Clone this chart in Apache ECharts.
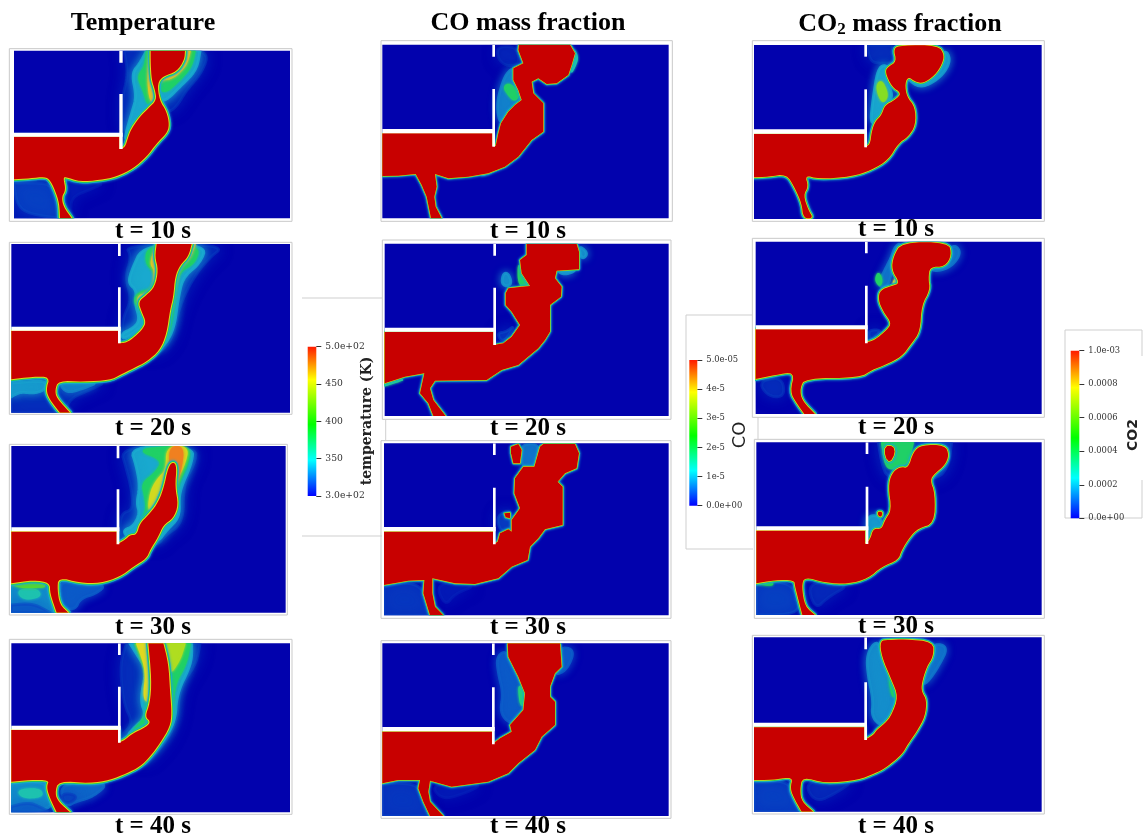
<!DOCTYPE html>
<html><head><meta charset="utf-8">
<style>html,body{margin:0;padding:0;background:#fff}#c{width:1145px;height:839px;filter:blur(0.45px)}</style>
<script src="https://cdn.jsdelivr.net/npm/echarts@6/dist/echarts.min.js"></script></head>
<body><div id="c"></div>
<script>
// ---------- text ----------
const columnTitles=['Temperature','CO mass fraction','{a|CO}{s|2}{a| mass fraction}'];
const timeLabels=['t = 10 s','t = 20 s','t = 30 s','t = 40 s'];
// ---------- colour-bar ticks ----------
const tempTicks={300:'3.0e+02',350:'350',400:'400',450:'450',500:'5.0e+02'};
const coTicks={0:'0.0e+00',1:'1e-5',2:'2e-5',3:'3e-5',4:'4e-5',5:'5.0e-05'};
const co2Ticks={0:'0.0e+00',2:'0.0002',4:'0.0004',6:'0.0006',8:'0.0008',10:'1.0e-03'};
// ---------- field contours: [level,[[x,y],...]]  level 0..1 of the colour scale ----------
const T10_core=[[42,410],[358,410],[358,447],[375,443],[385,410],[395,385],[420,350],[445,325],[470,300],[465,270],[455,240],[452,190],[452,152],[555,152],[553,180],[530,215],[490,228],[472,250],[478,300],[500,335],[508,375],[500,400],[470,430],[440,470],[400,505],[350,530],[300,540],[240,545],[195,530],[190,535],[197,570],[185,590],[190,620],[215,655],[180,655],[178,610],[165,570],[150,540],[135,530],[90,535],[42,538]];
const T10_zones=[
[.06,[[42,540],[320,545],[280,565],[210,592],[215,655],[42,655]]],
[.13,[[42,550],[150,548],[165,590],[175,655],[80,640],[50,610]]],
[.1,[[372,152],[600,152],[625,170],[600,225],[560,270],[530,320],[500,340],[470,300],[440,330],[400,370],[372,410],[365,300],[385,220]]],
[.28,[[395,220],[420,190],[440,152],[600,152],[590,210],[540,260],[500,300],[480,300],[450,325],[420,345],[395,375],[380,420],[375,410],[395,340],[410,290]]],
[.45,[[412,230],[435,200],[440,152],[585,152],[575,200],[535,245],[495,280],[472,260],[470,300],[445,320],[430,270]]],
[.75,[[445,200],[450,152],[570,152],[560,195],[520,235],[480,240],[465,265],[470,300],[455,310],[445,270]]]];
const T20_core=[[34,992],[355,992],[355,1030],[380,1028],[405,1010],[430,985],[438,965],[425,935],[415,905],[440,885],[465,860],[475,810],[465,770],[470,732],[575,732],[565,770],[540,795],[525,830],[520,890],[510,930],[500,1000],[480,1050],[440,1085],[400,1105],[360,1125],[330,1140],[250,1145],[175,1142],[165,1170],[170,1195],[210,1238],[180,1238],[150,1200],[138,1170],[150,1130],[100,1130],[34,1138]];
const T20_zones=[
[.1,[[34,1140],[330,1140],[270,1170],[210,1195],[195,1238],[34,1238]]],
[.26,[[34,1150],[140,1140],[135,1170],[100,1180],[60,1175],[34,1190]]],
[.22,[[175,1145],[300,1145],[250,1165],[200,1180]]],
[.1,[[375,735],[680,733],[620,780],[570,850],[535,930],[520,1010],[480,1060],[440,1060],[400,1040],[365,1000],[370,950],[395,900],[375,830],[395,770]]],
[.28,[[385,850],[395,810],[430,735],[620,735],[600,790],[550,830],[535,890],[520,1000],[470,1060],[430,1000],[440,965],[420,985],[370,1020],[365,1000],[400,985],[420,960],[405,910],[410,870]]],
[.45,[[435,790],[445,735],[600,735],[585,790],[535,815],[525,890],[510,1000],[470,1060],[440,1000],[438,960],[420,930],[400,900],[420,875],[455,870],[470,820]]],
[.75,[[450,790],[470,732],[585,732],[570,775],[535,805],[522,880],[510,950],[470,950],[420,930],[410,890],[440,880],[460,865],[465,810]]]];
const T30_core=[[34,305],[350,305],[350,343],[375,330],[390,315],[410,315],[420,280],[445,255],[470,225],[490,180],[505,110],[520,95],[530,110],[525,170],[535,225],[520,265],[490,285],[475,320],[450,360],[440,385],[400,410],[360,440],[300,460],[240,458],[175,442],[172,480],[180,525],[205,548],[170,548],[150,490],[150,458],[100,450],[34,460]];
const T30_zones=[
[.24,[[34,460],[150,460],[165,548],[34,548]]],
[.12,[[34,525],[100,520],[150,548],[34,548]]],
[.34,[[50,480],[110,475],[125,500],[70,510]]],
[.16,[[175,445],[320,462],[290,490],[240,505],[225,540],[185,530]]],
[.55,[[34,462],[100,452],[145,470],[100,472],[60,472]]],
[.1,[[360,50],[590,50],[585,100],[550,160],[550,280],[490,320],[480,340],[440,345],[420,310],[360,340],[360,250],[400,240],[395,180],[380,120]]],
[.28,[[390,50],[580,50],[575,100],[535,190],[540,260],[500,300],[470,340],[410,315],[380,320],[370,300],[400,290],[420,250],[410,220],[420,170],[410,110]]],
[.45,[[410,60],[500,50],[570,50],[565,100],[530,170],[535,240],[490,290],[465,340],[420,280],[440,240],[435,200],[425,160],[465,130],[490,90]]],
[.7,[[500,50],[565,50],[555,100],[525,160],[520,240],[490,270],[445,250],[450,190],[470,150],[500,120]]],
[.85,[[510,50],[550,50],[545,110],[525,170],[490,180],[510,110]]]];
const T40_core=[[34,900],[355,900],[355,938],[375,930],[395,912],[440,890],[452,875],[435,860],[450,820],[455,750],[445,640],[490,640],[505,700],[510,780],[515,850],[510,890],[480,940],[450,980],[420,1010],[380,1030],[330,1050],[270,1060],[175,1052],[165,1090],[175,1115],[210,1147],[170,1147],[148,1100],[140,1070],[148,1050],[90,1050],[34,1055]];
const T40_zones=[
[.24,[[34,1055],[148,1055],[165,1140],[34,1147]]],
[.13,[[34,1130],[90,1115],[150,1147],[34,1147]]],
[.34,[[50,1080],[120,1075],[130,1100],[70,1105]]],
[.18,[[175,1060],[330,1055],[280,1100],[225,1115],[200,1130]]],
[.09,[[185,1090],[230,1095],[220,1115],[190,1120]]],
[.1,[[360,700],[380,640],[600,640],[590,700],[540,770],[530,880],[480,960],[420,1010],[385,920],[360,920],[400,880],[370,820]]],
[.28,[[390,640],[575,640],[575,700],[530,790],[525,880],[470,960],[410,1010],[380,920],[400,895],[440,860],[420,810],[440,720],[415,680]]],
[.45,[[405,640],[570,640],[560,700],[520,770],[520,880],[470,940],[410,920],[395,905],[430,870],[440,830],[445,760],[430,700]]],
[.72,[[410,640],[440,640],[455,740],[445,820],[430,800],[440,720]]],
[.65,[[490,640],[555,640],[540,690],[505,740]]]];
const C10_core=[[22,400],[352,400],[352,438],[362,438],[370,400],[378,370],[400,335],[420,315],[440,300],[430,270],[415,240],[415,205],[445,190],[430,150],[432,134],[585,134],[600,160],[590,195],[580,225],[545,250],[515,252],[490,235],[470,245],[475,280],[505,310],[505,395],[470,420],[430,470],[390,500],[340,520],[280,530],[220,535],[180,522],[185,560],[178,590],[182,620],[200,655],[168,655],[155,590],[140,555],[122,522],[70,527],[22,528]];
const C10_zones=[
[.08,[[365,140],[425,140],[435,190],[400,200],[370,180]]],
[.22,[[365,310],[385,240],[400,215],[415,205],[440,300],[420,315],[395,340],[375,375]]],
[.45,[[385,260],[405,250],[435,280],[420,305],[400,285]]],
[.35,[[590,140],[610,170],[600,200],[585,225]]],
[.3,[[310,522],[360,505],[330,527]]]];
const C20_core=[[29,996],[355,996],[355,1035],[385,1030],[410,1010],[435,975],[410,935],[392,915],[392,880],[400,865],[440,860],[465,858],[440,820],[435,780],[455,765],[455,732],[605,732],[612,755],[612,808],[545,812],[540,835],[560,860],[558,890],[525,915],[525,995],[510,1020],[490,1045],[430,1095],[380,1110],[335,1140],[180,1142],[165,1165],[175,1200],[212,1248],[175,1248],[160,1210],[135,1180],[148,1120],[90,1130],[29,1150]];
const C20_zones=[
[.25,[[380,850],[385,820],[400,820],[410,850],[395,860]]],
[.45,[[430,780],[445,840],[465,858],[430,860]]],
[.25,[[610,735],[640,760],[620,780]]],
[.25,[[545,812],[610,808],[570,825]]],
[.13,[[365,1000],[395,995],[420,975],[385,1030]]],
[.4,[[29,1150],[100,1135],[29,1157]]]];
const C30_core=[[27,305],[355,305],[355,343],[368,335],[375,310],[400,298],[410,305],[410,270],[435,235],[418,190],[420,145],[445,110],[478,110],[495,50],[505,42],[600,42],[612,70],[605,115],[570,130],[548,155],[563,170],[563,285],[510,298],[490,325],[465,350],[458,390],[410,410],[370,445],[300,462],[240,460],[172,445],[172,490],[180,530],[205,556],[165,556],[145,490],[148,450],[100,452],[27,465]];
const C30_isle=[[[408,50],[430,42],[440,60],[435,100],[415,100],[408,70]],[[388,250],[405,248],[405,265],[392,262]]];
const C30_zones=[
[.2,[[440,42],[495,42],[480,110],[445,110],[440,90]]],
[.14,[[365,255],[410,240],[412,300],[375,305]]],
[.12,[[27,470],[100,455],[150,480],[160,556],[27,556]]],
[.06,[[180,455],[310,465],[240,490],[210,530]]]];
const C40_core=[[22,905],[352,905],[352,943],[375,925],[410,905],[405,885],[445,840],[450,790],[430,740],[400,680],[398,640],[555,640],[560,710],[540,730],[525,770],[525,800],[540,815],[540,885],[500,920],[480,960],[430,1000],[400,1030],[340,1055],[230,1070],[165,1052],[160,1085],[165,1115],[205,1158],[165,1158],[145,1115],[130,1075],[135,1050],[70,1050],[22,1060]];
const C40_zones=[
[.16,[[365,680],[395,660],[430,740],[450,790],[445,840],[410,885],[375,850],[385,790],[370,730]]],
[.42,[[430,760],[450,790],[445,830],[435,820]]],
[.16,[[555,650],[600,660],[575,720],[540,735],[560,710]]],
[.12,[[22,1060],[130,1060],[150,1120],[165,1158],[22,1158]]],
[.06,[[165,1060],[330,1060],[270,1090],[200,1110]]]];
const D10_core=[[27,402],[358,402],[358,440],[375,435],[380,395],[390,365],[410,345],[420,315],[450,300],[470,280],[440,260],[420,215],[430,200],[455,185],[445,145],[470,136],[580,136],[598,165],[590,195],[570,225],[535,250],[510,245],[490,230],[480,250],[485,290],[510,320],[512,375],[490,410],[460,430],[430,480],[380,510],[320,530],[220,537],[180,525],[190,560],[175,585],[190,630],[205,655],[175,655],[170,610],[150,565],[125,522],[70,530],[27,532]];
const D10_zones=[
[.1,[[365,135],[440,135],[450,190],[395,190],[375,180]]],
[.28,[[385,290],[400,200],[430,195],[420,240],[445,285],[425,315],[410,345],[375,380]]],
[.6,[[395,255],[410,240],[430,285],[415,310],[400,285]]],
[.26,[[598,145],[618,180],[590,230],[530,265],[490,240],[500,225],[570,225]]]];
const D20_core=[[32,988],[360,988],[360,1028],[390,1020],[425,990],[440,970],[415,935],[400,900],[405,870],[440,858],[465,850],[440,810],[445,770],[470,727],[610,727],[620,765],[600,800],[555,800],[550,835],[555,870],[530,915],[525,995],[500,1030],[470,1070],[420,1095],[380,1110],[345,1133],[180,1135],[165,1165],[170,1200],[210,1242],[178,1242],[155,1210],[135,1175],[150,1115],[90,1125],[32,1137]];
const D20_zones=[
[.2,[[440,770],[450,740],[470,727],[440,810],[430,860],[395,860],[430,790]]],
[.45,[[390,840],[400,815],[412,840],[405,860]]],
[.72,[[445,845],[460,825],[470,852],[445,855]]],
[.2,[[620,730],[650,755],[620,800],[570,815],[555,800],[600,800]]],
[.12,[[370,990],[410,990],[390,1010],[375,1020]]],
[.1,[[40,1145],[110,1130],[120,1190],[70,1190]]]];
const D30_core=[[34,302],[360,302],[360,342],[375,330],[385,295],[410,298],[420,270],[440,240],[430,170],[440,130],[465,110],[490,115],[505,65],[530,45],[600,45],[612,75],[600,105],[570,130],[555,150],[570,190],[568,280],[520,295],[495,320],[470,360],[460,390],[410,410],[370,445],[310,462],[240,458],[178,440],[170,470],[180,530],[210,555],[172,555],[150,470],[148,450],[90,450],[34,460]];
const D30_isle=[[[420,48],[445,48],[450,70],[435,98],[420,80]],[[398,245],[412,245],[410,260],[400,258]]];
const D30_zones=[
[.12,[[400,37],[620,37],[610,110],[575,150],[430,150],[410,100]]],
[.45,[[410,37],[505,37],[490,100],[470,105],[440,120],[420,105]]],
[.26,[[365,260],[400,255],[420,300],[380,295],[372,330]]],
[.14,[[34,465],[90,452],[150,470],[170,553],[34,555]]],
[.48,[[34,460],[80,452],[85,468]]],
[.09,[[185,452],[320,462],[250,500],[210,540]]]];
const D40_core=[[27,892],[358,892],[358,930],[385,915],[395,900],[420,880],[440,855],[460,800],[440,750],[410,680],[405,632],[430,630],[480,628],[565,635],[565,680],[545,710],[530,760],[530,785],[545,810],[540,860],[515,905],[490,940],[470,975],[420,1015],[390,1030],[340,1050],[240,1060],[172,1040],[165,1080],[170,1115],[205,1145],[170,1145],[150,1110],[135,1075],[145,1040],[80,1050],[27,1050]];
const D40_zones=[
[.24,[[365,680],[385,640],[405,640],[455,800],[440,855],[410,890],[380,860],[385,810],[370,740]]],
[.46,[[430,720],[455,800],[440,800]]],
[.2,[[565,640],[610,650],[580,710],[545,760],[530,760],[565,680]]],
[.14,[[27,1055],[135,1050],[165,1145],[27,1145]]],
[.09,[[175,1050],[330,1050],[280,1085],[210,1120]]]];
// ---------- walls [x0,x1,y0,y1] in each panel's own units ----------
const T10_walls=[[42,368,398,410],[358,368,152,188],[358,368,282,447]];
const T20_walls=[[34,362,980,992],[354,362,732,768],[354,362,862,1030]];
const T30_walls=[[34,358,292,304],[350,358,48,85],[350,358,178,343]];
const T40_walls=[[34,362,887,899],[354,362,640,675],[354,362,770,938]];
const C10_walls=[[22,360,387,400],[352,360,134,170],[352,360,267,440]];
const C20_walls=[[29,363,983,995],[355,363,731,767],[355,363,863,1035]];
const C30_walls=[[27,362,291,304],[354,362,40,75],[354,362,173,343]];
const C40_walls=[[22,359,891,904],[351,359,640,675],[351,359,772,943]];
const D10_walls=[[27,366,388,401],[358,366,135,170],[358,366,268,442]];
const D20_walls=[[32,368,976,988],[360,368,725,760],[360,368,857,1030]];
const D30_walls=[[34,370,289,301],[362,370,37,72],[362,370,170,342]];
const D40_walls=[[27,366,878,890],[358,366,622,658],[358,366,757,930]];

// ---------- layout (not data) ----------
const SCALE=3;
const fieldLayout=[
 {o:[0,0],b:[42,870,152,655],f:[28,876,146,664],core:T10_core,z:T10_zones,w:T10_walls,g:[5,3.4,2],s:2},
 {o:[0,0],b:[34,870,732,1238],f:[28,876,727,1243],core:T20_core,z:T20_zones,w:T20_walls,g:[5,3.4,2],s:2},
 {o:[0,430],b:[34,857,48,548],f:[28,862,43,555],core:T30_core,z:T30_zones,w:T30_walls,g:[5,3.4,2],s:2},
 {o:[0,430],b:[34,870,640,1147],f:[28,876,628,1153],core:T40_core,z:T40_zones,w:T40_walls,g:[5,3.4,2],s:2},
 {o:[375,0],b:[22,881,134,655],f:[18,892,122,664],core:C10_core,z:C10_zones,w:C10_walls,g:[2.4,1.6,.9],s:0},
 {o:[375,0],b:[29,881,731,1248],f:[22,888,720,1258],core:C20_core,z:C20_zones,w:C20_walls,g:[2.4,1.6,.9],s:0},
 {o:[375,430],b:[27,881,40,556],f:[18,888,32,565],core:C30_core,isle:C30_isle,z:C30_zones,w:C30_walls,g:[2.4,1.6,.9],s:0},
 {o:[375,430],b:[22,881,640,1158],f:[18,888,632,1165],core:C40_core,z:C40_zones,w:C40_walls,g:[2.4,1.6,.9],s:0},
 {o:[745,0],b:[27,890,135,657],f:[22,898,122,664],core:D10_core,z:D10_zones,w:D10_walls,g:[4,2.6,1.4],s:2},
 {o:[745,0],b:[32,890,725,1242],f:[22,898,715,1252],core:D20_core,z:D20_zones,w:D20_walls,g:[4,2.6,1.4],s:2},
 {o:[745,430],b:[34,890,37,555],f:[28,898,28,565],core:D30_core,isle:D30_isle,z:D30_zones,w:D30_walls,g:[4,2.6,1.4],s:2},
 {o:[745,430],b:[27,890,622,1145],f:[22,898,616,1152],core:D40_core,z:D40_zones,w:D40_walls,g:[4,2.6,1.4],s:2}
];
const titleLayout=[[143,23],[528,23],[900,24]];
const timeX=[153,528,896];
const timeY=[[232,429,628,827],[232,429,628,827],[230,428,627,827]];
const colourBars=[
 {l:307.7,t:346.7,w:8.6,h:149.3,min:300,max:500,iv:50,ticks:tempTicks,name:'temperature (K)',nameFont:'bold 14px "DejaVu Serif"',nameX:367,nameY:421,font:'DejaVu Serif',fs:9.2,labelColor:'#333'},
 {l:689.3,t:360,w:8,h:145.7,min:0,max:5,iv:1,ticks:coTicks,name:'CO',nameX:740,nameY:435,font:'DejaVu Serif',fs:8.4,labelColor:'#333',nameFont:'18px "DejaVu Sans"'},
 {l:1070.7,t:350.7,w:8.6,h:167.6,min:0,max:10,iv:2,ticks:co2Ticks,name:'CO2',nameX:1133,nameY:435,font:'DejaVu Serif',fs:8.4,labelColor:'#333',nameFont:'bold 14px "DejaVu Sans"'}
];
// leftover image-frame lines [x1,y1,x2,y2]
const frameLines=[[302,298,382,298],[302,536,382,536],[686,315,752,315],[686,315,686,549],[686,549,753,549],[758,417,758,439],[385.7,419,385.7,440],[1065,330,1142,330],[1142,330,1142,356],[1065,330,1065,518],[1065,518,1142,518],[1142,480,1142,518]];

const BLUE='#0202ad',RED='#c80000';
const stops=[[0,[2,2,173]],[.14,[10,80,200]],[.28,[26,172,207]],[.38,[32,208,154]],[.5,[32,208,64]],[.62,[154,223,32]],[.72,[224,216,32]],[.85,[240,128,32]],[1,[200,0,0]]];
function ramp(v){for(let i=1;i<stops.length;i++){if(v<=stops[i][0]){const a=stops[i-1],b=stops[i],t=(v-a[0])/(b[0]-a[0]);return 'rgb('+a[1].map((c,k)=>Math.round(c+(b[1][k]-c)*t)).join(',')+')';}}return RED;}
// corner cutting that leaves the flagged vertices (walls and domain edge) sharp
function rounded(pts,fixed,n){
  let P=pts.map((q,i)=>({q,f:fixed(pts[i],i)}));
  for(let k=0;k<n;k++){const R=[];P.forEach((v,i)=>{
    if(v.f){R.push(v);return;}
    const a=P[(i-1+P.length)%P.length].q,b=P[(i+1)%P.length].q,c=v.q;
    R.push({q:[c[0]+(a[0]-c[0])*.25,c[1]+(a[1]-c[1])*.25],f:false},{q:[c[0]+(b[0]-c[0])*.25,c[1]+(b[1]-c[1])*.25],f:false});});P=R;}
  return P.map(v=>v.q);
}
const grids=[],xAxes=[],yAxes=[],series=[],titles=[],graphics=[];
fieldLayout.forEach((p,idx)=>{
  const left=p.o[0]+p.b[0]/SCALE,top=p.o[1]+p.b[2]/SCALE,width=(p.b[1]-p.b[0])/SCALE,height=(p.b[3]-p.b[2])/SCALE;
  grids.push({left,top,width,height,show:true,backgroundColor:BLUE,borderWidth:0,containLabel:false});
  xAxes.push({gridIndex:idx,type:'value',min:p.b[0],max:p.b[1],show:false});
  yAxes.push({gridIndex:idx,type:'value',min:p.b[2],max:p.b[3],inverse:true,show:false});
  const fx=p.o[0]+p.f[0]/SCALE,fy=p.o[1]+p.f[2]/SCALE;
  graphics.push({type:'rect',silent:true,z:-1,shape:{x:fx,y:fy,width:(p.f[1]-p.f[0])/SCALE,height:(p.f[3]-p.f[2])/SCALE},style:{fill:'#fff',stroke:'#c9c9c9',lineWidth:1}});
  const onEdge=q=>q[0]<=p.b[0]||q[1]<=p.b[2]||q[1]>=p.b[3];
  const layers=[];
  p.z.forEach(z=>layers.push({kind:'zone',v:z[0],pts:rounded(z[1],onEdge,3)}));
  (p.isle||[]).forEach(c=>layers.push({kind:'core',pts:rounded(c,()=>false,p.s?1:0)}));
  layers.push({kind:'core',pts:rounded(p.core,(q,i)=>i<=2||onEdge(q),p.s)});
  p.w.forEach(w=>layers.push({kind:'wall',pts:[[w[0],w[2]],[w[1],w[2]],[w[1],w[3]],[w[0],w[3]]]}));
  series.push({type:'custom',coordinateSystem:'cartesian2d',xAxisIndex:idx,yAxisIndex:idx,clip:true,silent:true,animation:false,
    data:layers.map((l,i)=>[i,i]),
    renderItem(params,api){
      const l=layers[api.value(0)],pts=l.pts.map(q=>api.coord(q));
      if(l.kind==='wall')return {type:'polygon',shape:{points:pts},style:{fill:'#fff'}};
      if(l.kind==='zone'){const c=ramp(l.v),low=l.v<.15,mid=l.v<.3;
        return {type:'polygon',shape:{points:pts},style:{fill:c,stroke:c,lineWidth:mid?3:1.5,lineJoin:'round',shadowBlur:low?14:mid?9:3,shadowColor:c,opacity:low?.55:mid?.85:1}};}
      const mk=(c,lw,b)=>({type:'polygon',shape:{points:pts},style:{fill:c,stroke:c,lineWidth:lw,lineJoin:'round',shadowBlur:b||0,shadowColor:c}});
      return {type:'group',children:[mk(ramp(.28),p.g[0],3),mk(ramp(.5),p.g[1]),mk(ramp(.72),p.g[2]),{type:'polygon',shape:{points:pts},style:{fill:RED}}]};
    }});
});
colourBars.forEach((b,i)=>{
  const gi=grids.length;
  grids.push({left:b.l,top:b.t,width:b.w,height:b.h,containLabel:false});
  xAxes.push({gridIndex:gi,type:'category',data:[b.name],show:false});
  yAxes.push({gridIndex:gi,type:'value',position:'right',min:b.min,max:b.max,interval:b.iv,splitLine:{show:false},axisLine:{show:false},
    axisTick:{show:true,length:5,lineStyle:{color:'#333',width:1}},
    axisLabel:{margin:9,fontFamily:b.font,fontSize:b.fs,color:b.labelColor,formatter:v=>b.ticks[Math.round(v)]}});
  series.push({type:'bar',xAxisIndex:gi,yAxisIndex:gi,data:[b.max],barWidth:'100%',silent:true,animation:false,
    itemStyle:{color:new echarts.graphic.LinearGradient(0,0,0,1,[{offset:0,color:'#ff1a00'},{offset:.22,color:'#ffff00'},{offset:.52,color:'#00ff00'},{offset:.76,color:'#00ffff'},{offset:1,color:'#0000ff'}])}});
  graphics.push({type:'text',silent:true,rotation:Math.PI/2,x:b.nameX,y:b.nameY,style:{text:b.name,font:b.nameFont,fill:'#222',textAlign:'center',textVerticalAlign:'middle'}});
});
frameLines.forEach(l=>graphics.push({type:'line',silent:true,z:-1,shape:{x1:l[0],y1:l[1],x2:l[2],y2:l[3]},style:{stroke:'#cfcfcf',lineWidth:1}}));
columnTitles.forEach((t,i)=>{
  titles.push({text:t,left:titleLayout[i][0],top:titleLayout[i][1],textAlign:'center',textVerticalAlign:'middle',padding:0,
    textStyle:{fontFamily:'Liberation Serif',fontWeight:'bold',fontSize:26,color:'#000',
      rich:{a:{fontFamily:'Liberation Serif',fontWeight:'bold',fontSize:26,color:'#000'},s:{fontFamily:'Liberation Serif',fontWeight:'bold',fontSize:17,color:'#000',verticalAlign:'bottom',padding:[12,0,0,0]}}}});
  timeLabels.forEach((lab,r)=>titles.push({text:lab,left:timeX[i],top:timeY[i][r],textAlign:'center',textVerticalAlign:'middle',padding:0,
    textStyle:{fontFamily:'Liberation Serif',fontWeight:'bold',fontSize:25,color:'#000'}}));
});
const chart=echarts.init(document.getElementById('c'),null,{renderer:'canvas'});
chart.setOption({animation:false,backgroundColor:'#fff',title:titles,grid:grids,xAxis:xAxes,yAxis:yAxes,series,graphic:graphics,tooltip:{show:false}});
</script></body></html>
